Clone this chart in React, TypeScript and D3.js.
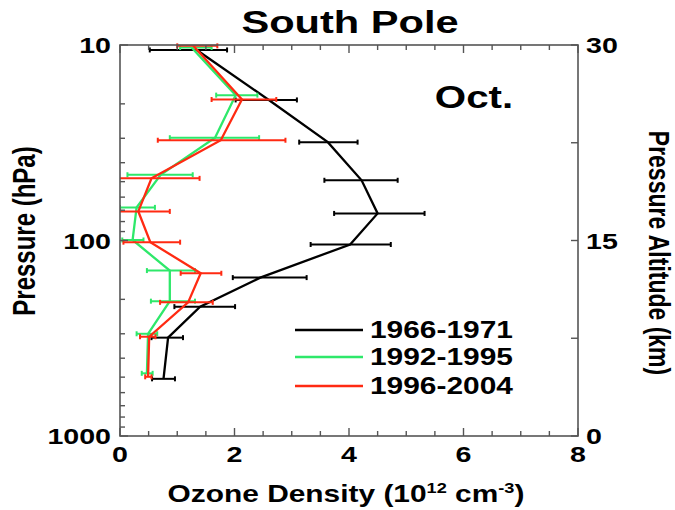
import React from 'react';
import * as d3 from 'd3';

// pressure levels (hPa) and ozone density (1e12 cm^-3) per period
const periods = ['1966-1971', '1992-1995', '1996-2004'];
const colors = ['#000000', '#2ee86a', '#ff2a12'];

const blackP = [10.6, 19.1, 31.4, 49.2, 72.7, 104.8, 154.8, 217.9, 314, 510];
const blackVal = [1.34, 2.6, 3.63, 4.22, 4.5, 4.02, 2.45, 1.4, 0.84, 0.76];
const blackLo = [0.52, 2.02, 3.13, 3.57, 3.74, 3.33, 1.97, 0.95, 0.55, 0.56];
const blackHi = [1.87, 3.09, 4.15, 4.85, 5.32, 4.73, 3.26, 2.01, 1.1, 0.96];

const greenP = [10.3, 18.05, 29.8, 46.1, 67.7, 99.4, 142.5, 204.3, 300, 478];
const greenVal = [1.25, 2.02, 1.66, 0.71, 0.29, 0.22, 0.87, 0.87, 0.49, 0.47];
const greenLo = [1.05, 1.68, 0.87, 0.13, 0.0, 0.04, 0.47, 0.54, 0.29, 0.38];
const greenHi = [1.6, 2.4, 2.43, 1.27, 0.61, 0.41, 1.31, 1.31, 0.65, 0.57];

const redP = [10.1, 19.0, 30.7, 48.1, 71.0, 102.0, 147.1, 207.2, 310.6, 498];
const redVal = [1.28, 2.13, 1.76, 0.55, 0.32, 0.53, 1.41, 1.19, 0.51, 0.49];
const redLo = [1.0, 1.6, 0.66, -0.1, -0.05, 0.06, 1.06, 0.7, 0.35, 0.44];
const redHi = [1.7, 2.73, 2.89, 1.39, 0.87, 1.05, 1.77, 1.62, 0.62, 0.55];

const xTicks = [0, 2, 4, 6, 8];
const pTicks = [10, 100, 1000];
const altTicks = [0, 15, 30];

const W = 675;
const H = 510;
const margin = { top: 45, right: 97, bottom: 74, left: 120 };
const FONT = '"Liberation Sans", Arial, Helvetica, sans-serif';
const SX = 1.3; // the original glyphs are wide

const series = [
  { p: blackP, v: blackVal, lo: blackLo, hi: blackHi },
  { p: greenP, v: greenVal, lo: greenLo, hi: greenHi },
  { p: redP, v: redVal, lo: redLo, hi: redHi },
];

const SText = ({ x, y, rot, size, anchor, children }: any) => (
  <text
    transform={`translate(${x},${y}) scale(${SX},1)${rot ? ` rotate(${rot})` : ''}`}
    fontFamily={FONT}
    fontWeight="bold"
    fontSize={size}
    textAnchor={anchor || 'start'}
    fill="#000"
  >
    {children}
  </text>
);

const App: React.FC = () => {
  const x = d3.scaleLinear().domain([0, 8]).range([margin.left, W - margin.right]);
  const y = d3.scaleLog().domain([10, 1000]).range([margin.top, H - margin.bottom]);
  const alt = d3.scaleLinear().domain([0, 30]).range([H - margin.bottom, margin.top]);

  const x0 = x.range()[0], x1 = x.range()[1];
  const y0 = y.range()[0], y1 = y.range()[1];
  const axisColor = '#555';

  const minorX = d3.range(0, 8.01, 0.5);
  const minorP = y.ticks();
  const altMinor = d3.range(0, 30.01, 7.5);

  return (
    <svg width={W} height={H} style={{ position: 'absolute', left: 0, top: 0, background: '#fff' }}>
      <defs>
        <clipPath id="plot">
          <rect x={x0} y={y0 - 4} width={x1 - x0} height={y1 - y0 + 4} />
        </clipPath>
      </defs>

      <SText x={350} y={33} size={32} anchor="middle">South Pole</SText>
      <SText x={474} y={108} size={31} anchor="middle">Oct.</SText>

      {/* data */}
      <g clipPath="url(#plot)">
        {series.map((s, i) => {
          const line = d3.line<number>()
            .x((d) => x(s.v[d]))
            .y((d) => y(s.p[d]));
          return (
            <g key={i}>
              {s.p.map((p, j) => (
                <g key={j} stroke={colors[i]} strokeWidth={2}>
                  <line x1={x(s.lo[j])} x2={x(s.hi[j])} y1={y(p)} y2={y(p)} />
                  <line x1={x(s.lo[j])} x2={x(s.lo[j])} y1={y(p) - 2.5} y2={y(p) + 2.5} />
                  <line x1={x(s.hi[j])} x2={x(s.hi[j])} y1={y(p) - 2.5} y2={y(p) + 2.5} />
                </g>
              ))}
              <path d={line(d3.range(s.p.length)) || ''} fill="none" stroke={colors[i]} strokeWidth={2.3} />
            </g>
          );
        })}
      </g>

      {/* frame */}
      <rect x={x0} y={y0} width={x1 - x0} height={y1 - y0} fill="none" stroke={axisColor} strokeWidth={1.6} />

      {/* bottom & top ticks */}
      {minorX.map((t) => {
        const len = t % 2 === 0 ? 8 : 5;
        return (
          <g key={t} stroke={axisColor} strokeWidth={1.4}>
            <line x1={x(t)} x2={x(t)} y1={y1} y2={y1 - len} />
            <line x1={x(t)} x2={x(t)} y1={y0} y2={y0 + len} />
          </g>
        );
      })}
      {xTicks.map((t) => (
        <SText key={t} x={x(t)} y={462} size={22} anchor="middle">{t}</SText>
      ))}

      {/* left log ticks */}
      {minorP.map((p) => {
        const major = pTicks.includes(p);
        return (
          <line key={p} x1={x0} x2={x0 + (major ? 8 : 5)} y1={y(p)} y2={y(p)} stroke={axisColor} strokeWidth={1.4} />
        );
      })}
      {pTicks.map((p) => (
        <SText key={p} x={111} y={y(p) + 8} size={22} anchor="end">{p}</SText>
      ))}

      {/* right altitude ticks */}
      {altMinor.map((a) => (
        <line key={a} x1={x1} x2={x1 - 7} y1={alt(a)} y2={alt(a)} stroke={axisColor} strokeWidth={1.4} />
      ))}
      {altTicks.map((a) => (
        <SText key={a} x={586} y={alt(a) + 8} size={22}>{a}</SText>
      ))}

      {/* axis titles */}
      <SText x={346} y={502} size={23} anchor="middle">
        Ozone Density (10
        <tspan dy={-9} fontSize={14}>12</tspan>
        <tspan dy={9}> cm</tspan>
        <tspan dy={-9} fontSize={14}>-3</tspan>
        <tspan dy={9}>)</tspan>
      </SText>
      <SText x={35} y={231} size={24} rot={-90} anchor="middle">Pressure (hPa)</SText>
      <SText x={649} y={253} size={23} rot={90} anchor="middle">Pressure Altitude (km)</SText>

      {/* legend */}
      {periods.map((name, i) => {
        const ly = [330, 357, 386][i];
        return (
          <g key={name}>
            <line x1={295} x2={363} y1={ly} y2={ly} stroke={colors[i]} strokeWidth={2.5} />
            <SText x={370} y={ly + 8} size={23}>{name}</SText>
          </g>
        );
      })}
    </svg>
  );
};

export default App;
